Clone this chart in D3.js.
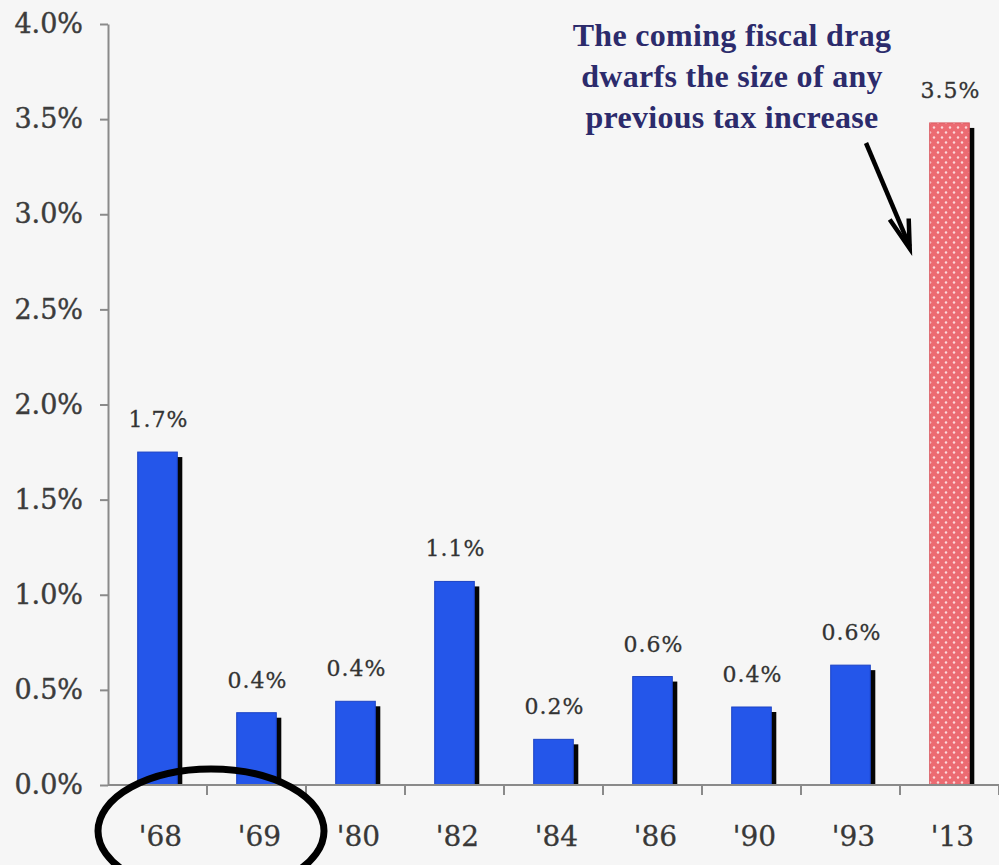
<!DOCTYPE html>
<html>
<head>
<meta charset="utf-8">
<script src="https://cdn.jsdelivr.net/npm/d3@7"></script>
<style>
  html, body { margin: 0; padding: 0; background: #f6f6f6; }
  svg { display: block; }
</style>
</head>
<body>
<svg id="chart" width="999" height="865"></svg>
<script>
// ---- data ----
const categories = ["'68", "'69", "'80", "'82", "'84", "'86", "'90", "'93", "'13"];
const values = [1.75, 0.38, 0.44, 1.07, 0.24, 0.57, 0.41, 0.63, 3.48];
const valueLabels = ["1.7%", "0.4%", "0.4%", "1.1%", "0.2%", "0.6%", "0.4%", "0.6%", "3.5%"];
const yTickValues = [0, 0.5, 1.0, 1.5, 2.0, 2.5, 3.0, 3.5, 4.0];
const highlighted = ["'13"];
const annotationLines = ["The coming fiscal drag", "dwarfs the size of any", "previous tax increase"];
const arrowTipValue = 2.82;

// ---- layout ----
const W = 999, H = 865;
const margin = { left: 108, right: 0, top: 24, bottom: 80 };
const svg = d3.select("#chart");

svg.append("rect").attr("width", W).attr("height", H).attr("fill", "#f6f6f6");

const defs = svg.append("defs");
const pat = defs.append("pattern")
  .attr("id", "dots").attr("patternUnits", "userSpaceOnUse")
  .attr("width", 8).attr("height", 10);
pat.append("rect").attr("width", 8).attr("height", 10).attr("fill", "#ec6b72");
pat.append("circle").attr("cx", 2).attr("cy", 2.5).attr("r", 1.2).attr("fill", "#fcd8da");
pat.append("circle").attr("cx", 6).attr("cy", 7.5).attr("r", 1.2).attr("fill", "#fcd8da");

const x = d3.scaleBand()
  .domain(categories)
  .range([margin.left, W - margin.right])
  .paddingInner(0.6)
  .paddingOuter(0.3);

const y = d3.scaleLinear()
  .domain([0, 4])
  .range([H - margin.bottom, margin.top]);

const serif = "'DejaVu Serif', 'Liberation Serif', serif";

// ---- y axis ----
const yAxis = d3.axisLeft(y)
  .tickValues(yTickValues)
  .tickSize(8)
  .tickSizeOuter(0)
  .tickPadding(17)
  .tickFormat(d => d.toFixed(1) + "%");

const gy = svg.append("g")
  .attr("transform", `translate(${margin.left},0)`)
  .call(yAxis);
gy.select(".domain").attr("stroke", "#8a8a8a").attr("stroke-width", 2);
gy.selectAll(".tick line").attr("stroke", "#8a8a8a").attr("stroke-width", 2);
gy.selectAll(".tick text")
  .attr("font-family", serif).attr("font-size", 27)
  .attr("fill", "#3c3c3c").attr("stroke", "#3c3c3c").attr("stroke-width", 0.4)
  .attr("letter-spacing", 0);

// ---- bars ----
const data = categories.map((c, i) => ({ cat: c, v: values[i], label: valueLabels[i] }));

const shadowOff = 5;
svg.append("g").selectAll("rect")
  .data(data).join("rect")
  .attr("x", d => x(d.cat) + shadowOff)
  .attr("y", d => y(d.v) + shadowOff)
  .attr("width", x.bandwidth())
  .attr("height", d => y(0) - y(d.v) - shadowOff)
  .attr("fill", "#050505");

svg.append("g").selectAll("rect")
  .data(data).join("rect")
  .attr("x", d => x(d.cat))
  .attr("y", d => y(d.v))
  .attr("width", x.bandwidth())
  .attr("height", d => y(0) - y(d.v))
  .attr("fill", d => highlighted.includes(d.cat) ? "url(#dots)" : "#2456ea")
  .attr("stroke", d => highlighted.includes(d.cat) ? "#d9585f" : "#1c43c4")
  .attr("stroke-width", 1);

// value labels
svg.append("g").selectAll("text")
  .data(data).join("text")
  .attr("x", d => x(d.cat) + x.bandwidth() / 2 + 1)
  .attr("y", d => y(d.v) - 25)
  .attr("text-anchor", "middle")
  .attr("font-family", serif).attr("font-size", 22)
  .attr("letter-spacing", 1)
  .attr("fill", "#333").attr("stroke", "#333").attr("stroke-width", 0.3)
  .text(d => d.label);

// ---- x axis ----
const xAxis = d3.axisBottom(x).tickSize(0).tickPadding(41).tickSizeOuter(0);
const gx = svg.append("g")
  .attr("transform", `translate(0,${y(0)})`)
  .call(xAxis);
gx.select(".domain").remove();
gx.append("line")
  .attr("x1", margin.left).attr("x2", W)
  .attr("stroke", "#8a8a8a").attr("stroke-width", 2);
gx.selectAll(".tick text")
  .attr("font-family", serif).attr("font-size", 28)
  .attr("fill", "#383838").attr("stroke", "#383838").attr("stroke-width", 0.3)
  .attr("dx", 3);
// boundary ticks
gx.append("g").selectAll("line")
  .data(categories).join("line")
  .attr("x1", d => x(d) + x.bandwidth() / 2 + x.step() / 2)
  .attr("x2", d => x(d) + x.bandwidth() / 2 + x.step() / 2)
  .attr("y1", 0).attr("y2", 10)
  .attr("stroke", "#8a8a8a").attr("stroke-width", 2);

// ---- annotation ----
const ann = svg.append("text")
  .attr("text-anchor", "middle")
  .attr("font-family", "'Liberation Serif', 'Times New Roman', serif")
  .attr("font-weight", "bold")
  .attr("font-size", 32)
  .attr("letter-spacing", 0.3)
  .attr("fill", "#2c2b6c");
annotationLines.forEach((t, i) => {
  ann.append("tspan").attr("x", 732).attr("y", 46 + i * 41).text(t);
});

// arrow
const tipX = x("'13") - 20, tipY = y(arrowTipValue);
const startX = 866, startY = 143;
svg.append("line")
  .attr("x1", startX).attr("y1", startY)
  .attr("x2", tipX).attr("y2", tipY - 2)
  .attr("stroke", "#000").attr("stroke-width", 4.5);
svg.append("path")
  .attr("d", `M${tipX - 20},${tipY - 29} L${tipX},${tipY} L${tipX - 1},${tipY - 30}`)
  .attr("fill", "none").attr("stroke", "#000").attr("stroke-width", 4.5)
  .attr("stroke-linejoin", "miter");

// highlight ellipse around '68 and '69
const ecx = (x("'68") + x("'69") + x.bandwidth()) / 2 + 4;
svg.append("ellipse")
  .attr("cx", ecx).attr("cy", y(0) + 46)
  .attr("rx", 113).attr("ry", 62)
  .attr("fill", "none").attr("stroke", "#000").attr("stroke-width", 7);
</script>
</body>
</html>
